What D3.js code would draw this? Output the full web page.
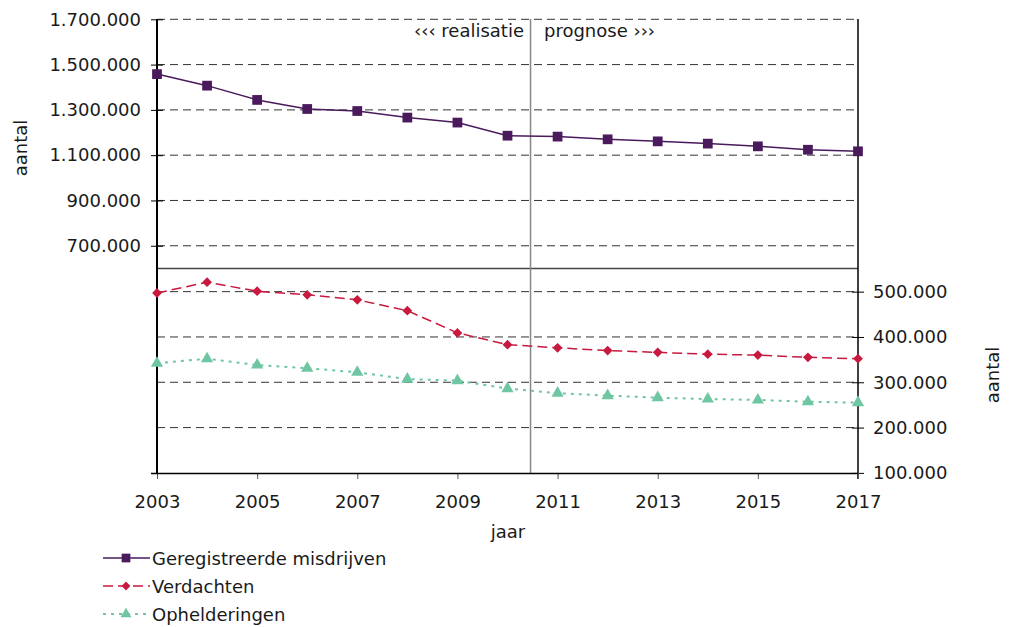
<!DOCTYPE html>
<html><head><meta charset="utf-8">
<script src="https://cdn.jsdelivr.net/npm/d3@7"></script>
<style>body{margin:0;background:#fff;} text{font-family:"DejaVu Sans",Verdana,sans-serif;fill:#1a1a1a;}</style>
</head><body><svg id="c" width="1010" height="627"></svg>
<script>
const years = [2003,2004,2005,2006,2007,2008,2009,2010,2011,2012,2013,2014,2015,2016,2017];
const misdrijven = [1458000,1407000,1344000,1304000,1295000,1266000,1244000,1186000,1182000,1170000,1161000,1151000,1139000,1124000,1117000];
const verdachten = [497000,521000,501000,493000,482000,458000,409000,383000,376000,370000,366000,362000,360000,355000,352000];
const opheldering = [342000,352000,338000,331000,322000,307000,303500,286000,276000,270500,266000,263000,261000,257000,255000];
const topTicks = [700000,900000,1100000,1300000,1500000,1700000];
const botTicks = [100000,200000,300000,400000,500000];
const xTicks = [2003,2005,2007,2009,2011,2013,2015,2017];
const legendNames = ["Geregistreerde misdrijven","Verdachten","Ophelderingen"];
const FS = "18px";

const svg = d3.select("#c");
const x = d3.scaleLinear().domain([2003,2017]).range([157,858]);
const yTop = d3.scaleLinear().domain([600000,1700000]).range([268.4,19.3]);
const yBot = d3.scaleLinear().domain([100000,550000]).range([472.9,269]);
const fmt = v => d3.format(",")(v).replace(/,/g,".");

// gridlines
svg.append("g").selectAll("line").data(topTicks).join("line")
  .attr("x1",157).attr("x2",858).attr("y1",d=>yTop(d)).attr("y2",d=>yTop(d))
  .attr("stroke","#333").attr("stroke-width",1).attr("stroke-dasharray","8,5");
svg.append("g").selectAll("line").data(botTicks.slice(1)).join("line")
  .attr("x1",157).attr("x2",858).attr("y1",d=>yBot(d)).attr("y2",d=>yBot(d))
  .attr("stroke","#333").attr("stroke-width",1).attr("stroke-dasharray","8,5");
svg.append("line").attr("x1",157).attr("x2",858).attr("y1",268.5).attr("y2",268.5).attr("stroke","#444").attr("stroke-width",1.5);
// divider between realisation and forecast
svg.append("line").attr("x1",x(2010.46)).attr("x2",x(2010.46)).attr("y1",19).attr("y2",473).attr("stroke","#888").attr("stroke-width",1.5);

// axes
const gl = svg.append("g").attr("transform","translate(157,0)")
  .call(d3.axisLeft(yTop).tickValues(topTicks).tickFormat(fmt).tickSizeInner(6).tickSizeOuter(0).tickPadding(10));
gl.select(".domain").remove();
gl.selectAll(".tick line").attr("x2",6).attr("x1",-6);
gl.selectAll("text").style("font-size",FS).attr("fill","#1a1a1a");
svg.append("line").attr("x1",157).attr("x2",157).attr("y1",19).attr("y2",473).attr("stroke","#000").attr("stroke-width",2);

const gr = svg.append("g").attr("transform","translate(858,0)")
  .call(d3.axisRight(yBot).tickValues(botTicks).tickFormat(fmt).tickSizeInner(6).tickSizeOuter(0).tickPadding(9));
gr.select(".domain").remove();
gr.selectAll(".tick line").attr("x1",-6).attr("x2",6);
gr.selectAll("text").style("font-size",FS).attr("fill","#1a1a1a");
svg.append("line").attr("x1",858).attr("x2",858).attr("y1",19).attr("y2",479).attr("stroke","#000").attr("stroke-width",1.5);

const gb = svg.append("g").attr("transform","translate(0,473)")
  .call(d3.axisBottom(x).tickValues(xTicks).tickFormat(d3.format("d")).tickSizeInner(6).tickSizeOuter(0).tickPadding(16));
gb.select(".domain").remove();
gb.selectAll(".tick line").attr("stroke","#555");
gb.selectAll("text").style("font-size",FS).attr("fill","#1a1a1a");
svg.append("line").attr("x1",151).attr("x2",858).attr("y1",473.5).attr("y2",473.5).attr("stroke","#000").attr("stroke-width",1.5);

// labels
svg.append("text").attr("transform","translate(27,148) rotate(-90)").attr("text-anchor","middle").style("font-size",FS).text("aantal");
svg.append("text").attr("transform","translate(999,375) rotate(-90)").attr("text-anchor","middle").style("font-size",FS).text("aantal");
svg.append("text").attr("x",508).attr("y",538).attr("text-anchor","middle").style("font-size",FS).text("jaar");
svg.append("text").attr("x",524).attr("y",37).attr("text-anchor","end").style("font-size",FS).text("‹‹‹ realisatie");
svg.append("text").attr("x",544).attr("y",37).attr("text-anchor","start").style("font-size",FS).text("prognose ›››");

// series
const cfg = [
  {vals:misdrijven, y:yTop, color:"#4a1a5c", dash:null, sym:d3.symbolSquare, size:95, rot:0, w:1.5},
  {vals:verdachten, y:yBot, color:"#c8193f", dash:"10,5", sym:d3.symbolSquare, size:48, rot:45, w:1.5},
  {vals:opheldering, y:yBot, color:"#6fc6a3", dash:"3,5", sym:d3.symbolTriangle, size:65, rot:0, w:2}
];
cfg.forEach(c=>{
  const line = d3.line().x((d,i)=>x(years[i])).y(d=>c.y(d));
  svg.append("path").datum(c.vals).attr("d",line).attr("fill","none").attr("stroke",c.color)
    .attr("stroke-width",c.w).attr("stroke-dasharray",c.dash);
  svg.append("g").selectAll("path").data(c.vals).join("path")
    .attr("transform",(d,i)=>`translate(${x(years[i])},${c.y(d)}) rotate(${c.rot})`)
    .attr("d",d3.symbol().type(c.sym).size(c.size)).attr("fill",c.color);
});

// legend
const lg = svg.append("g");
cfg.forEach((c,i)=>{
  const yy = 558 + i*28;
  lg.append("line").attr("x1",103).attr("x2",150).attr("y1",yy).attr("y2",yy).attr("stroke",c.color)
    .attr("stroke-width",c.w).attr("stroke-dasharray",c.dash);
  lg.append("path").attr("transform",`translate(126,${yy}) rotate(${c.rot})`).attr("d",d3.symbol().type(c.sym).size(c.size*0.8)).attr("fill",c.color);
  lg.append("text").attr("x",152).attr("y",yy+7).style("font-size",FS).text(legendNames[i]);
});
</script></body></html>
